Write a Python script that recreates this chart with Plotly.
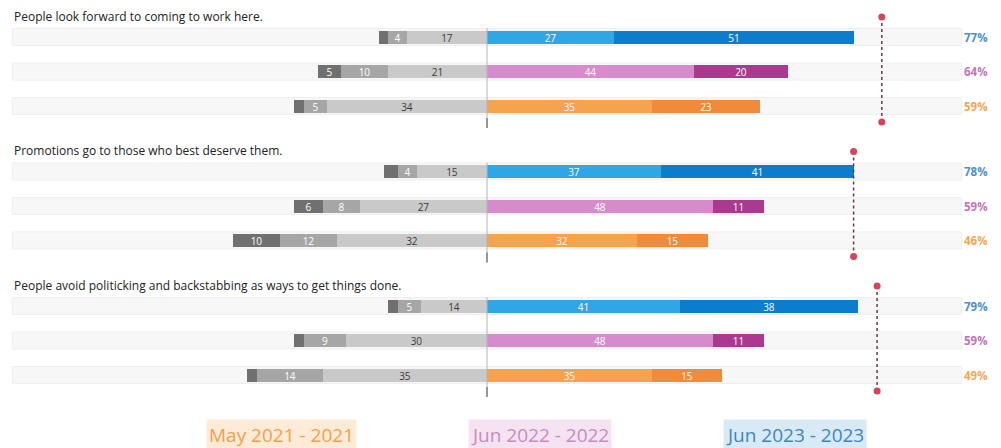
import plotly.graph_objects as go

# ---------------- data ----------------
questions = [
    "People look forward to coming to work here.",
    "Promotions go to those who best deserve them.",
    "People avoid politicking and backstabbing as ways to get things done.",
]
periods = ["Jun 2023 - 2023", "Jun 2022 - 2022", "May 2021 - 2021"]  # row order within each group

neutral = [[17, 21, 34], [15, 27, 32], [14, 30, 35]]
disagree = [[4, 10, 5], [4, 8, 12], [5, 9, 14]]
strongly_disagree = [[2, 5, 2], [3, 6, 10], [2, 2, 2]]
agree = [[27, 44, 35], [37, 48, 32], [41, 48, 35]]
strongly_agree = [[51, 20, 23], [41, 11, 15], [38, 11, 15]]
favorable = [[77, 64, 59], [78, 59, 46], [79, 59, 49]]
benchmark = [84, 78, 83]

# ---------------- styles ----------------
light_cols = ["#2fa6e6", "#d68ccb", "#f5a34e"]
dark_cols = ["#0b7dcc", "#a93a90", "#ef8b3a"]
pct_cols = ["#4b8fd0", "#c276b6", "#f4a650"]
gray_cols = ["#c9c9c9", "#a6a6a6", "#707070"]
legend_txt = ["#3d86c6", "#c98bc0", "#f5a04a"]
legend_bg = ["#d9eaf7", "#f6e3f1", "#fdebd8"]
FONT = "Open Sans"

OFF = 8           # page body margin
PX = 4.7          # pixels per percentage point
W, H = 1001 - OFF, 448 - OFF
X0 = 487 - OFF    # pixel position of zero in figure coords
G0, GSTEP, RSTEP = 37 - OFF, 134.5, 34.5
BAR_H = 13


def row_y(g, r):
    return G0 + GSTEP * g + RSTEP * r


def flat(a):
    return [v for row in a for v in row]


def lab(vals, thr=4):
    return [str(v) if v >= thr else "" for v in vals]


fig = go.Figure()
shapes = []
annotations = []

ys = [row_y(g, r) for g in range(3) for r in range(3)]

# negative side (stack outward from zero)
for vals, col, tcol in [(neutral, gray_cols[0], "#3a3a3a"),
                        (disagree, gray_cols[1], "#ffffff"),
                        (strongly_disagree, gray_cols[2], "#ffffff")]:
    v = flat(vals)
    fig.add_trace(go.Bar(
        y=ys, x=[-x for x in v], orientation="h", width=BAR_H,
        marker=dict(color=col, line=dict(width=0)),
        text=lab(v), textposition="inside", insidetextanchor="middle",
        textangle=0, constraintext="none",
        textfont=dict(color=tcol, size=10, family=FONT),
        hoverinfo="skip", showlegend=False))

# positive side
for vals, cols in [(agree, light_cols), (strongly_agree, dark_cols)]:
    v = flat(vals)
    colors = [cols[i % 3] for i in range(9)]
    fig.add_trace(go.Bar(
        y=ys, x=v, orientation="h", width=BAR_H,
        marker=dict(color=colors, line=dict(width=0)),
        text=lab(v), textposition="inside", insidetextanchor="middle",
        textangle=0, constraintext="none",
        textfont=dict(color="#ffffff", size=10, family=FONT),
        hoverinfo="skip", showlegend=False))

# background bands, titles, percentages, center line, benchmark
for g in range(3):
    for r in range(3):
        y = row_y(g, r)
        shapes.append(dict(type="rect", xref="x", yref="y", x0=-101, x1=101,
                           y0=y - 8.5, y1=y + 8.5, fillcolor="#f7f7f7",
                           line=dict(color="#efefef", width=1), layer="below"))
        annotations.append(dict(xref="x", yref="y", x=104, y=y,
                                text=f"<b>{favorable[g][r]}%</b>", showarrow=False,
                                font=dict(size=11.5, color=pct_cols[r], family=FONT)))
    annotations.append(dict(xref="paper", yref="y", x=4 / W, y=row_y(g, 0) - 21,
                            xanchor="left", yanchor="middle", text=questions[g],
                            showarrow=False,
                            font=dict(size=12, color="#222222", family=FONT)))
    shapes.append(dict(type="line", xref="x", yref="y", x0=0, x1=0,
                       y0=row_y(g, 0) - 9, y1=row_y(g, 2) + 22,
                       line=dict(color="#b5b5b5", width=1)))
    shapes.append(dict(type="line", xref="x", yref="y", x0=0, x1=0,
                       y0=row_y(g, 2) + 12, y1=row_y(g, 2) + 22,
                       line=dict(color="#555555", width=1)))
    fig.add_trace(go.Scatter(
        x=[benchmark[g], benchmark[g]], y=[row_y(g, 0) - 20, row_y(g, 2) + 16],
        mode="lines+markers",
        line=dict(color="#6a3a44", width=1.5, dash="dot"),
        marker=dict(color="#d6435a", size=7),
        hoverinfo="skip", showlegend=False))

# legend boxes (left to right: oldest to newest)
leg_order = [2, 1, 0]
for i, xc in zip(leg_order, [281 - OFF, 540 - OFF, 795 - OFF]):
    annotations.append(dict(xref="paper", yref="paper", x=xc / W,
                            y=(H - (435 - OFF)) / H,
                            xanchor="center", yanchor="middle",
                            text=periods[i], showarrow=False,
                            font=dict(size=19, color=legend_txt[i], family=FONT),
                            bgcolor=legend_bg[i], borderpad=2))

fig.update_layout(
    width=W, height=H, barmode="relative", bargap=0,
    margin=dict(l=0, r=0, t=0, b=0),
    paper_bgcolor="#ffffff", plot_bgcolor="#ffffff",
    shapes=shapes, annotations=annotations,
    xaxis=dict(range=[-X0 / PX, (W - X0) / PX], visible=False, fixedrange=True),
    yaxis=dict(range=[H, 0], visible=False, fixedrange=True),
)

fig.write_html("out.html")
